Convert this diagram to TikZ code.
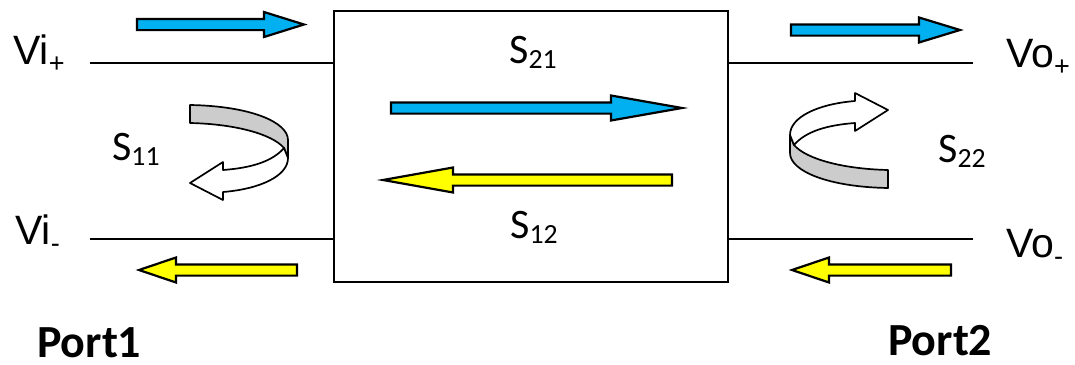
\documentclass[tikz,border=0pt]{standalone}
\usepackage{fontspec}
\setmainfont{Carlito}
\newfontfamily\arialfont{Liberation Sans}
\usepackage{graphicx}
\usetikzlibrary{positioning, calc}
\definecolor{wireblue}{RGB}{0, 176, 240}
\definecolor{waveyellow}{RGB}{255, 255, 0}
\definecolor{bandgray}{RGB}{204, 204, 204}
% tail x, tip x, y, head length (signed), fill colour
\newcommand{\blockarrow}[5]{%
  \draw[arrowline, fill=#5] (#1,#3-5.6) -- ({#2-(#4)},#3-5.6) -- ({#2-(#4)},#3-12.5)
    -- (#2,#3) -- ({#2-(#4)},#3+12.5) -- ({#2-(#4)},#3+5.6) -- (#1,#3+5.6) -- cycle;}
\newcommand{\lowsub}[2]{\raisebox{#1}{\scalebox{0.66}{#2}}}

\begin{document}
\begin{tikzpicture}[
  x=1pt, y=-1pt,
  arrowline/.style={draw=black, line width=2.2pt, line join=miter},
  bandline/.style={draw=black, line width=1.7pt, line join=round},
  wire/.style={line width=1.5pt},
  slabel/.style={font=\fontsize{42}{48}\selectfont, anchor=base west, inner sep=0pt},
  vlabel/.style={font=\arialfont\fontsize{41}{46}\selectfont, anchor=base west, inner sep=0pt},
  portlabel/.style={font=\bfseries\fontsize{46}{52}\selectfont, anchor=base west, inner sep=0pt, text depth=0pt},
  twist/.pic={
    \draw[bandline, fill=bandgray] (0,-39) .. controls (60,-38) and (98,-22) .. (98,-4)
      -- (98,14) -- (94,4) .. controls (82,-10) and (45,-20) .. (0,-21) -- cycle;
    \draw[bandline, fill=white] (94,4) .. controls (82,18) and (60,24) .. (33,26)
      -- (33,18) -- (0,39) -- (33,56) -- (33,48) .. controls (70,45) and (98,32) .. (98,14) -- cycle;
  }
]
  \useasboundingbox (0,0) rectangle (1075,364);

  % two-port box
  \node[draw, line width=1.5pt, minimum width=394pt, minimum height=271pt, inner sep=0pt] (twoport) at (531,146.5) {};

  % port wires
  \coordinate (inplus) at (90,63);
  \coordinate (inminus) at (90,239);
  \coordinate (outplus) at (973,63);
  \coordinate (outminus) at (973,239);
  \draw[wire] (inplus) -- (inplus -| twoport.west);
  \draw[wire] (inminus) -- (inminus -| twoport.west);
  \draw[wire] (outplus) -- (outplus -| twoport.east);
  \draw[wire] (outminus) -- (outminus -| twoport.east);

  % incident and reflected waves
  \blockarrow{137}{304}{24.5}{40}{wireblue}
  \blockarrow{791}{960}{30}{41}{wireblue}
  \blockarrow{391}{682}{108}{71}{wireblue}
  \blockarrow{672}{383}{180}{-70}{waveyellow}
  \blockarrow{297}{139}{270}{-37}{waveyellow}
  \blockarrow{951}{792}{270}{-37}{waveyellow}

  % reflections
  \pic at (190,144) {twist};
  \pic[rotate=180] at (888,149) {twist};

  % labels
  \node[vlabel] (vip) at (13,64) {Vi\lowsub{-0.2em}{+}};
  \node[vlabel] (vim) at (15,244) {Vi\lowsub{-0.2em}{-}};
  \node[vlabel] (vop) at (1006,67) {Vo\lowsub{-0.2em}{+}};
  \node[vlabel] (vom) at (1006,257) {Vo\lowsub{-0.2em}{-}};
  \node[slabel] (s21) at (509,63) {S\lowsub{-0.12em}{21}};
  \node[slabel] (s12) at (510,238) {S\lowsub{-0.12em}{12}};
  \node[slabel] (s11) at (112,160) {S\lowsub{-0.12em}{11}};
  \node[slabel] (s22) at (938,162) {S\lowsub{-0.12em}{22}};
  \node[portlabel] (port1) at (37,357) {Port1};
  \node[portlabel] (port2) at (888,355) {Port2};
\end{tikzpicture}
\end{document}
